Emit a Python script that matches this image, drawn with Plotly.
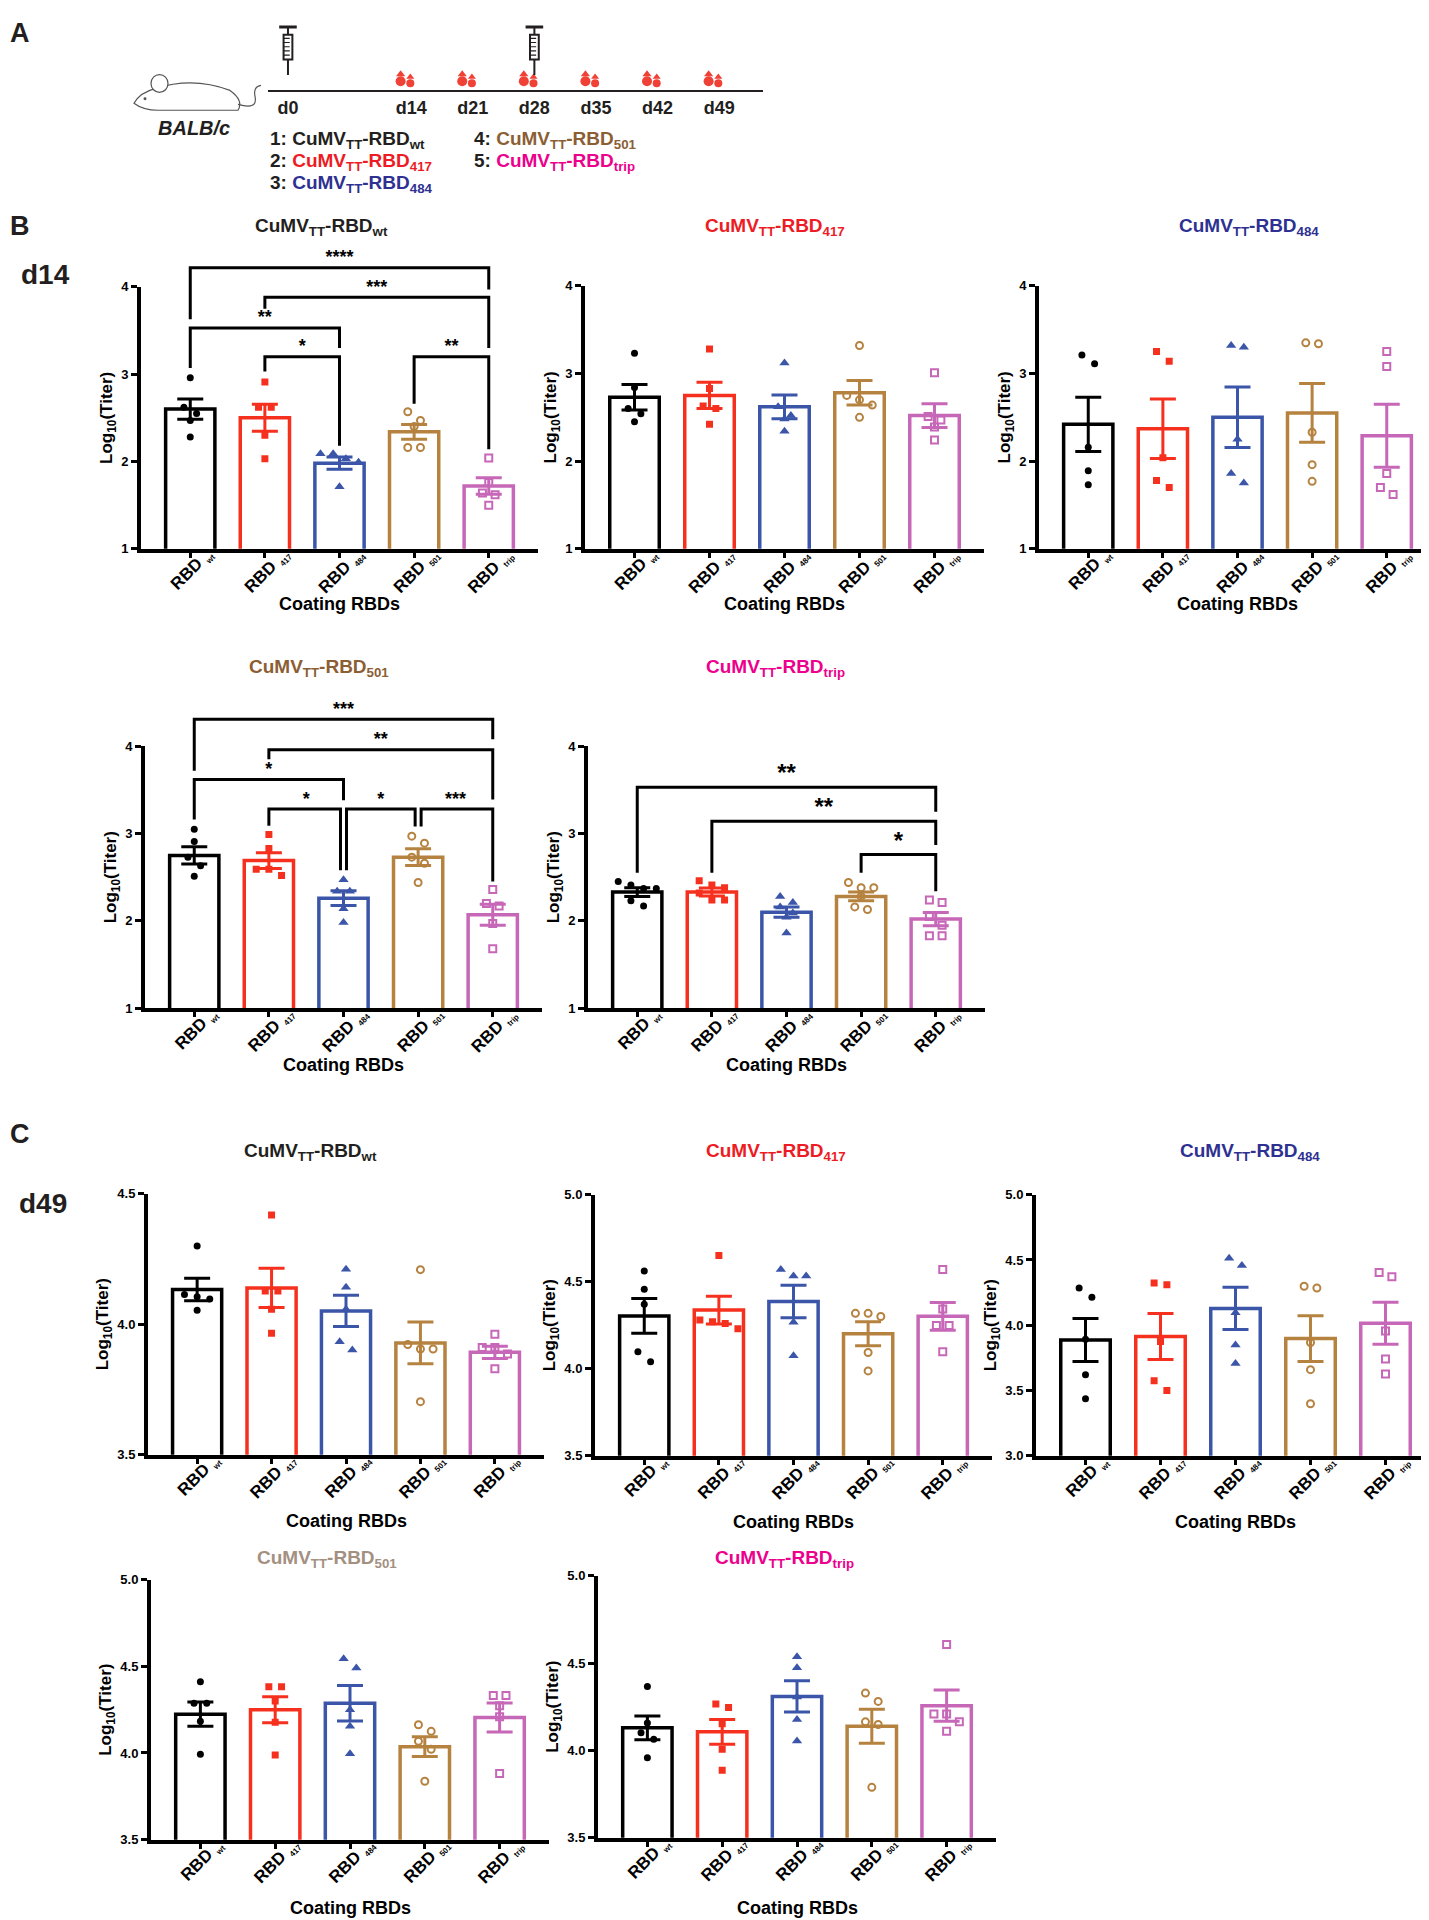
import plotly.graph_objects as go

W, H = 1429, 1920
FONT = "Liberation Sans, Arial, Helvetica, sans-serif"
INK = "#231f20"

# coating antigens (x categories) and their styles
coating = ["wt", "417", "484", "501", "trip"]
coat_colors = ["#000000", "#f5301e", "#3b55a8", "#b5823f", "#c767b8"]
coat_symbols = ["circle", "square", "triangle-up", "circle-open", "square-open"]

# timeline (panel A)
timeline_days = [0, 14, 21, 28, 35, 42, 49]
injection_days = [0, 28]
bleed_days = [14, 21, 28, 35, 42, 49]
vaccine_colors = ["#231f20", "#ed1c24", "#2e3192", "#8b5e34", "#ec008c"]

# ---- d14 ----
d14_wt_mean = [2.60, 2.50, 1.98, 2.34, 1.72]
d14_wt_sem = [0.115, 0.155, 0.07, 0.085, 0.095]
d14_wt_pts = [[2.96, 2.62, 2.55, 2.47, 2.28], [2.91, 2.62, 2.62, 2.30, 2.03],
              [2.09, 2.09, 2.03, 1.99, 1.71], [2.57, 2.47, 2.40, 2.16, 2.16],
              [2.04, 1.76, 1.64, 1.62, 1.50]]
# (left, right, bar height, left leg end, right leg end, label)
d14_wt_sig = [(0, 4, 4.22, 3.63, 3.97, "****"), (1, 4, 3.88, 3.75, 3.30, "***"),
              (0, 2, 3.53, 3.07, 3.30, "**"), (1, 2, 3.20, 3.03, 2.18, "*"),
              (3, 4, 3.20, 2.66, 2.14, "**")]

d14_417_mean = [2.73, 2.75, 2.62, 2.78, 2.52]
d14_417_sem = [0.145, 0.15, 0.135, 0.14, 0.135]
d14_417_pts = [[3.23, 2.84, 2.60, 2.54, 2.45], [3.28, 2.83, 2.63, 2.60, 2.42],
               [3.12, 2.62, 2.52, 2.48, 2.34], [3.32, 2.75, 2.70, 2.64, 2.50],
               [3.01, 2.51, 2.47, 2.39, 2.24]]

d14_484_mean = [2.42, 2.37, 2.50, 2.55, 2.29]
d14_484_sem = [0.31, 0.34, 0.345, 0.335, 0.36]
d14_484_pts = [[3.21, 3.11, 2.16, 1.89, 1.73], [3.25, 3.14, 2.04, 1.78, 1.70],
               [3.32, 3.30, 2.25, 1.86, 1.75], [3.35, 3.34, 2.33, 1.96, 1.77],
               [3.25, 3.08, 1.86, 1.70, 1.62]]

d14_501_mean = [2.75, 2.69, 2.26, 2.73, 2.07]
d14_501_sem = [0.10, 0.09, 0.085, 0.095, 0.12]
d14_501_pts = [[3.05, 2.91, 2.73, 2.63, 2.51], [2.99, 2.83, 2.59, 2.59, 2.52],
               [2.47, 2.34, 2.34, 2.14, 1.98], [2.97, 2.89, 2.73, 2.66, 2.44],
               [2.36, 2.20, 2.17, 1.97, 1.68]]
d14_501_sig = [(0, 4, 4.31, 3.72, 4.08, "***"), (1, 4, 3.96, 3.85, 3.39, "**"),
               (0, 2, 3.62, 3.16, 3.38, "*"), (1, 2, 3.28, 3.09, 2.58, "*"),
               (2, 3, 3.28, 2.58, 3.08, "*"), (3, 4, 3.28, 3.08, 2.45, "***")]

d14_trip_mean = [2.33, 2.33, 2.10, 2.28, 2.02]
d14_trip_sem = [0.05, 0.045, 0.06, 0.05, 0.075]
d14_trip_pts = [[2.45, 2.41, 2.37, 2.37, 2.23, 2.17], [2.46, 2.41, 2.38, 2.32, 2.24, 2.24],
                [2.28, 2.21, 2.16, 2.09, 2.04, 1.86], [2.44, 2.38, 2.38, 2.28, 2.16, 2.13],
                [2.24, 2.21, 2.05, 1.95, 1.83, 1.83]]
d14_trip_sig = [(0, 4, 3.53, 2.55, 3.25, "**"), (1, 4, 3.14, 2.55, 2.87, "**"),
                (3, 4, 2.76, 2.55, 2.34, "*")]

# ---- d49 ----
d49_wt_mean = [4.133, 4.139, 4.051, 3.928, 3.892]
d49_wt_sem = [0.043, 0.075, 0.06, 0.08, 0.023]
d49_wt_pts = [[4.30, 4.114, 4.105, 4.097, 4.053], [4.418, 4.127, 4.127, 4.057, 3.965],
              [4.211, 4.142, 4.057, 3.933, 3.901], [4.209, 3.922, 3.905, 3.905, 3.703],
              [3.961, 3.911, 3.911, 3.886, 3.829]]

d49_417_mean = [4.303, 4.337, 4.386, 4.201, 4.301]
d49_417_sem = [0.10, 0.08, 0.093, 0.069, 0.08]
d49_417_pts = [[4.561, 4.456, 4.371, 4.097, 4.040], [4.65, 4.28, 4.27, 4.26, 4.23],
               [4.57, 4.532, 4.532, 4.267, 4.074], [4.318, 4.318, 4.30, 4.093, 3.987],
               [4.57, 4.343, 4.248, 4.248, 4.097]]

d49_484_mean = [3.887, 3.913, 4.128, 3.897, 4.014]
d49_484_sem = [0.165, 0.176, 0.162, 0.176, 0.161]
d49_484_pts = [[4.285, 4.214, 3.892, 3.621, 3.436], [4.323, 4.31, 3.875, 3.575, 3.499],
               [4.513, 4.458, 4.095, 3.849, 3.707], [4.298, 4.285, 3.867, 3.659, 3.398],
               [4.404, 4.371, 3.956, 3.740, 3.626]]

d49_501_mean = [4.224, 4.249, 4.287, 4.036, 4.205]
d49_501_sem = [0.07, 0.075, 0.103, 0.057, 0.084]
d49_501_pts = [[4.411, 4.287, 4.287, 4.183, 3.992], [4.382, 4.382, 4.30, 4.177, 3.989],
               [4.544, 4.49, 4.249, 4.154, 3.996], [4.163, 4.125, 4.068, 4.021, 3.837],
               [4.331, 4.331, 4.272, 4.209, 3.882]]

d49_trip_mean = [4.129, 4.106, 4.309, 4.138, 4.256]
d49_trip_sem = [0.068, 0.071, 0.09, 0.097, 0.09]
d49_trip_pts = [[4.366, 4.157, 4.10, 4.063, 3.958], [4.265, 4.246, 4.152, 4.006, 3.886],
                [4.536, 4.473, 4.305, 4.176, 4.053], [4.328, 4.28, 4.163, 4.148, 3.788],
                [4.606, 4.208, 4.208, 4.163, 4.11]]


def pxx(p):
    return p / W


def pxy(p):
    return 1 - p / H


# panel layout: box = (axis x, axis end x, bottom y, top y) in pixels
panels = [
    dict(vac="wt", tc="#231f20", mean=d14_wt_mean, sem=d14_wt_sem, pts=d14_wt_pts, sig=d14_wt_sig,
         yr=[1, 4], yt=[1, 2, 3, 4], fmt="{:g}", box=(133, 530, 538, 274), ext=4.38,
         tpos=(313, 214), xt=594, star=18),
    dict(vac="417", tc="#ed1c24", mean=d14_417_mean, sem=d14_417_sem, pts=d14_417_pts, sig=[],
         yr=[1, 4], yt=[1, 2, 3, 4], fmt="{:g}", box=(577, 976, 538, 273),
         tpos=(767, 214), xt=594),
    dict(vac="484", tc="#2e3192", mean=d14_484_mean, sem=d14_484_sem, pts=d14_484_pts, sig=[],
         yr=[1, 4], yt=[1, 2, 3, 4], fmt="{:g}", box=(1031, 1428, 538, 273),
         tpos=(1241, 214), xt=594),
    dict(vac="501", tc="#8b5e34", mean=d14_501_mean, sem=d14_501_sem, pts=d14_501_pts, sig=d14_501_sig,
         yr=[1, 4], yt=[1, 2, 3, 4], fmt="{:g}", box=(137, 534, 1001, 737), ext=4.48,
         tpos=(311, 658), xt=1058, star=18),
    dict(vac="trip", tc="#ec008c", mean=d14_trip_mean, sem=d14_trip_sem, pts=d14_trip_pts, sig=d14_trip_sig,
         yr=[1, 4], yt=[1, 2, 3, 4], fmt="{:g}", box=(580, 977, 1001, 737),
         tpos=(767, 658), xt=1058, star=24),
    dict(vac="wt", tc="#231f20", mean=d49_wt_mean, sem=d49_wt_sem, pts=d49_wt_pts, sig=[],
         yr=[3.5, 4.5], yt=[3.5, 4.0, 4.5], fmt="{:.1f}", box=(140, 536, 1451, 1188),
         tpos=(302, 1146), xt=1518),
    dict(vac="417", tc="#ed1c24", mean=d49_417_mean, sem=d49_417_sem, pts=d49_417_pts, sig=[],
         yr=[3.5, 5.0], yt=[3.5, 4.0, 4.5, 5.0], fmt="{:.1f}", box=(587, 984, 1452, 1189),
         tpos=(768, 1146), xt=1519),
    dict(vac="484", tc="#2e3192", mean=d49_484_mean, sem=d49_484_sem, pts=d49_484_pts, sig=[],
         yr=[3.0, 5.0], yt=[3.0, 3.5, 4.0, 4.5, 5.0], fmt="{:.1f}", box=(1028, 1427, 1452, 1189),
         tpos=(1242, 1146), xt=1519),
    dict(vac="501", tc="#a39081", mean=d49_501_mean, sem=d49_501_sem, pts=d49_501_pts, sig=[],
         yr=[3.5, 5.0], yt=[3.5, 4.0, 4.5, 5.0], fmt="{:.1f}", box=(143, 541, 1839, 1577),
         tpos=(319, 1556), xt=1908),
    dict(vac="trip", tc="#ec008c", mean=d49_trip_mean, sem=d49_trip_sem, pts=d49_trip_pts, sig=[],
         yr=[3.5, 5.0], yt=[3.5, 4.0, 4.5, 5.0], fmt="{:.1f}", box=(590, 988, 1837, 1573),
         tpos=(776, 1556), xt=1908),
]


def row_offsets(vals, thr, step=0.17):
    # Prism-like: points of similar value share a row, centred on the category
    order = sorted(range(len(vals)), key=lambda k: -vals[k])
    offs = [0.0] * len(vals)
    row = []

    def flush(r):
        n = len(r)
        for q, k in enumerate(r):
            offs[k] = (q - (n - 1) / 2) * step

    for k in order:
        if row and vals[row[0]] - vals[k] > thr:
            flush(row)
            row = []
        row.append(k)
    flush(row)
    return offs


def sub_label(s):
    return "<b>RBD</b> <sub><span style='font-size:8px'><b>" + s + "</b></span></sub>"


fig = go.Figure()
layout = {}
annotations = []
shapes = []
XR = [-0.66, 4.66]
ext_id = 11

for k, p in enumerate(panels, start=1):
    xa = "x" if k == 1 else "x%d" % k
    ya = "y" if k == 1 else "y%d" % k
    xkey = "xaxis" if k == 1 else "xaxis%d" % k
    ykey = "yaxis" if k == 1 else "yaxis%d" % k
    left, right, bottom, top = p["box"]
    y0, y1 = p["yr"]
    ppu = (bottom - top) / (y1 - y0)

    layout[xkey] = dict(domain=[pxx(left), pxx(right)], range=XR, anchor=ya,
                        showline=True, linewidth=4, linecolor="black", mirror=False,
                        ticks="outside", ticklen=5, tickwidth=3, tickcolor="black",
                        tickvals=list(range(5)), showticklabels=False,
                        showgrid=False, zeroline=False, fixedrange=True)
    layout[ykey] = dict(domain=[pxy(bottom), pxy(top)], range=[y0, y1], anchor=xa,
                        showline=True, linewidth=4, linecolor="black",
                        ticks="outside", ticklen=6, tickwidth=3, tickcolor="black",
                        tickvals=p["yt"], ticktext=["<b>" + p["fmt"].format(v) + "</b>" for v in p["yt"]],
                        tickfont=dict(size=13, color="black"),
                        title=dict(text="<b>Log<sub>10</sub>(Titer)</b>", font=dict(size=17, color="black"),
                                   standoff=5),
                        showgrid=False, zeroline=False, fixedrange=True)

    # rotated category labels under the ticks
    for i, c in enumerate(coating):
        annotations.append(dict(x=i + 0.03, y=pxy(bottom - 6), xref=xa, yref="paper", text=sub_label(c),
                                textangle=-45, font=dict(size=17, color="black"), showarrow=False,
                                xanchor="center", yanchor="top", borderpad=0))

    # bars with SEM
    for i, c in enumerate(coating):
        fig.add_trace(go.Bar(x=[i], y=[p["mean"][i]], width=0.66, xaxis=xa, yaxis=ya,
                             marker=dict(color="white", line=dict(color=coat_colors[i], width=3.5)),
                             error_y=dict(type="data", array=[p["sem"][i]], color=coat_colors[i],
                                          thickness=3, width=13),
                             showlegend=False, hoverinfo="skip"))
    # individual mice
    for i, c in enumerate(coating):
        vals = p["pts"][i]
        offs = row_offsets(vals, 10 / ppu)
        openm = coat_symbols[i].endswith("open")
        size = 9 if coat_symbols[i] == "triangle-up" else 7
        fig.add_trace(go.Scatter(x=[i + o for o in offs], y=vals, mode="markers", xaxis=xa, yaxis=ya,
                                 marker=dict(symbol=coat_symbols[i], size=size, color=coat_colors[i],
                                             line=dict(width=2 if openm else 0, color=coat_colors[i])),
                                 showlegend=False, hoverinfo="skip"))

    # significance brackets
    if p["sig"]:
        yb = ya
        if "ext" in p:
            yb = "y%d" % ext_id
            ext_top = top - (p["ext"] - y1) * ppu
            layout["yaxis%d" % ext_id] = dict(domain=[pxy(bottom), pxy(ext_top)], range=[y0, p["ext"]],
                                              anchor=xa, visible=False, fixedrange=True)
            ext_id += 1
        sx, sy, st = [], [], []
        for (a, b, yh, ya_, yb_, lab) in p["sig"]:
            xl, xr = a, b
            for (a2, b2, yh2, _, _, _) in p["sig"]:
                if b2 == a and abs(yh2 - yh) < 0.01:
                    xl = a + 0.04
                if a2 == b and abs(yh2 - yh) < 0.01:
                    xr = b - 0.04
            fig.add_trace(go.Scatter(x=[xl, xl, xr, xr], y=[ya_, yh, yh, yb_], mode="lines",
                                     xaxis=xa, yaxis=yb, line=dict(color="black", width=3),
                                     showlegend=False, hoverinfo="skip"))
            sx.append((a + b) / 2)
            sy.append(yh)
            st.append("<b>" + lab + "</b>")
        fig.add_trace(go.Scatter(x=sx, y=sy, text=st, mode="text", textposition="top center",
                                 textfont=dict(size=p["star"], color="black"), cliponaxis=False,
                                 xaxis=xa, yaxis=yb, showlegend=False, hoverinfo="skip"))

    # panel title and x title
    annotations.append(dict(x=pxx(p["tpos"][0]), y=pxy(p["tpos"][1]), xref="paper", yref="paper",
                            text="<b>CuMV<sub>TT</sub>-RBD<sub>%s</sub></b>" % p["vac"],
                            font=dict(size=19, color=p["tc"]), showarrow=False,
                            xanchor="center", yanchor="middle"))
    annotations.append(dict(x=0.5, y=pxy(p["xt"]), xref="%s domain" % xa, yref="paper",
                            text="<b>Coating RBDs</b>", font=dict(size=18, color="black"),
                            showarrow=False, xanchor="center", yanchor="middle"))

# ---- panel A: immunisation schedule ----
layout["xaxis13"] = dict(domain=[pxx(260), pxx(755)], range=[-2.27, 53.98], anchor="y13",
                         showline=True, linewidth=2, linecolor=INK, ticks="",
                         tickvals=timeline_days, ticktext=["<b>d%d</b>" % d for d in timeline_days],
                         tickfont=dict(size=18, color=INK), showgrid=False, zeroline=False,
                         fixedrange=True)
layout["yaxis13"] = dict(domain=[pxy(76), pxy(5)], range=[0, 1], anchor="x13", visible=False,
                         fixedrange=True)

drop_red = "#ef4136"
for dx, cy, cs, ty, ts in [(-1.2, 0.13, 10, 0.23, 8), (-0.1, 0.10, 8, 0.19, 7)]:
    fig.add_trace(go.Scatter(x=[d + dx for d in bleed_days], y=[cy] * len(bleed_days), mode="markers",
                             xaxis="x13", yaxis="y13", marker=dict(symbol="circle", size=cs, color=drop_red),
                             showlegend=False, hoverinfo="skip"))
    fig.add_trace(go.Scatter(x=[d + dx for d in bleed_days], y=[ty] * len(bleed_days), mode="markers",
                             xaxis="x13", yaxis="y13",
                             marker=dict(symbol="triangle-up", size=ts, color=drop_red),
                             showlegend=False, hoverinfo="skip"))

for d in injection_days:
    ln = dict(color=INK, width=2)
    shapes.append(dict(type="line", xref="x13", yref="y13", x0=d - 1.0, x1=d + 1.0, y0=0.9, y1=0.9,
                       line=dict(color=INK, width=3)))
    shapes.append(dict(type="line", xref="x13", yref="y13", x0=d, x1=d, y0=0.9, y1=0.79, line=ln))
    shapes.append(dict(type="rect", xref="x13", yref="y13", x0=d - 0.5, x1=d + 0.5, y0=0.44, y1=0.79,
                       line=ln, fillcolor="white"))
    for g in [0.5, 0.56, 0.62, 0.68, 0.74]:
        shapes.append(dict(type="line", xref="x13", yref="y13", x0=d - 0.5, x1=d + 0.2, y0=g, y1=g,
                           line=dict(color=INK, width=1.2)))
    shapes.append(dict(type="line", xref="x13", yref="y13", x0=d, x1=d, y0=0.44, y1=0.22, line=ln))


def ppath(cmds):
    out = []
    for c in cmds:
        if isinstance(c, str):
            out.append(c)
        else:
            out.append("%.5f,%.5f" % (pxx(c[0]), pxy(c[1])))
    return " ".join(out)


mouse_line = dict(color="#555555", width=1.2)
shapes.append(dict(type="path", xref="paper", yref="paper", line=mouse_line,
                   path=ppath(["M", (126, 89), "Q", (132, 78), (148, 74), "Q", (185, 62), (222, 76),
                               "Q", (236, 86), (230, 96), "L", (150, 96), "Q", (135, 96), (126, 89), "Z"])))
shapes.append(dict(type="circle", xref="paper", yref="paper", line=mouse_line, fillcolor="white",
                   x0=pxx(143), x1=pxx(160), y0=pxy(78), y1=pxy(60)))
shapes.append(dict(type="path", xref="paper", yref="paper", line=mouse_line,
                   path=ppath(["M", (230, 90), "Q", (250, 96), (247, 82), "Q", (245, 72), (253, 71)])))
shapes.append(dict(type="circle", xref="paper", yref="paper", line=dict(width=0), fillcolor="#555555",
                   x0=pxx(135.5), x1=pxx(138.5), y0=pxy(86), y1=pxy(83)))

annotations.append(dict(x=pxx(186), y=pxy(114), xref="paper", yref="paper", text="<b><i>BALB/c</i></b>",
                        font=dict(size=20, color=INK), showarrow=False, xanchor="center", yanchor="middle"))

legend_pos = [(260, 126), (260, 148), (260, 170), (464, 126), (464, 148)]
for n, (vac, col, pos) in enumerate(zip(coating, vaccine_colors, legend_pos), start=1):
    txt = ("<b><span style='color:%s'>%d: </span>CuMV<sub>TT</sub>-RBD<sub>%s</sub></b>"
           % (INK, n, vac))
    annotations.append(dict(x=pxx(pos[0]), y=pxy(pos[1]), xref="paper", yref="paper", text=txt,
                            font=dict(size=19, color=col), showarrow=False,
                            xanchor="left", yanchor="middle"))

for lab, x, y, s in [("A", 12, 18, 27), ("B", 12, 213, 27), ("C", 12, 1128, 27),
                     ("d14", 37, 262, 28), ("d49", 35, 1198, 28)]:
    annotations.append(dict(x=pxx(x), y=pxy(y), xref="paper", yref="paper", text="<b>%s</b>" % lab,
                            font=dict(size=s, color=INK), showarrow=False,
                            xanchor="center", yanchor="middle"))

fig.update_layout(width=W, height=H, margin=dict(l=0, r=0, t=0, b=0),
                  paper_bgcolor="white", plot_bgcolor="rgba(0,0,0,0)",
                  font=dict(family=FONT, color="black"), barmode="overlay",
                  showlegend=False, annotations=annotations, shapes=shapes, **layout)

fig.write_html("out.html")
